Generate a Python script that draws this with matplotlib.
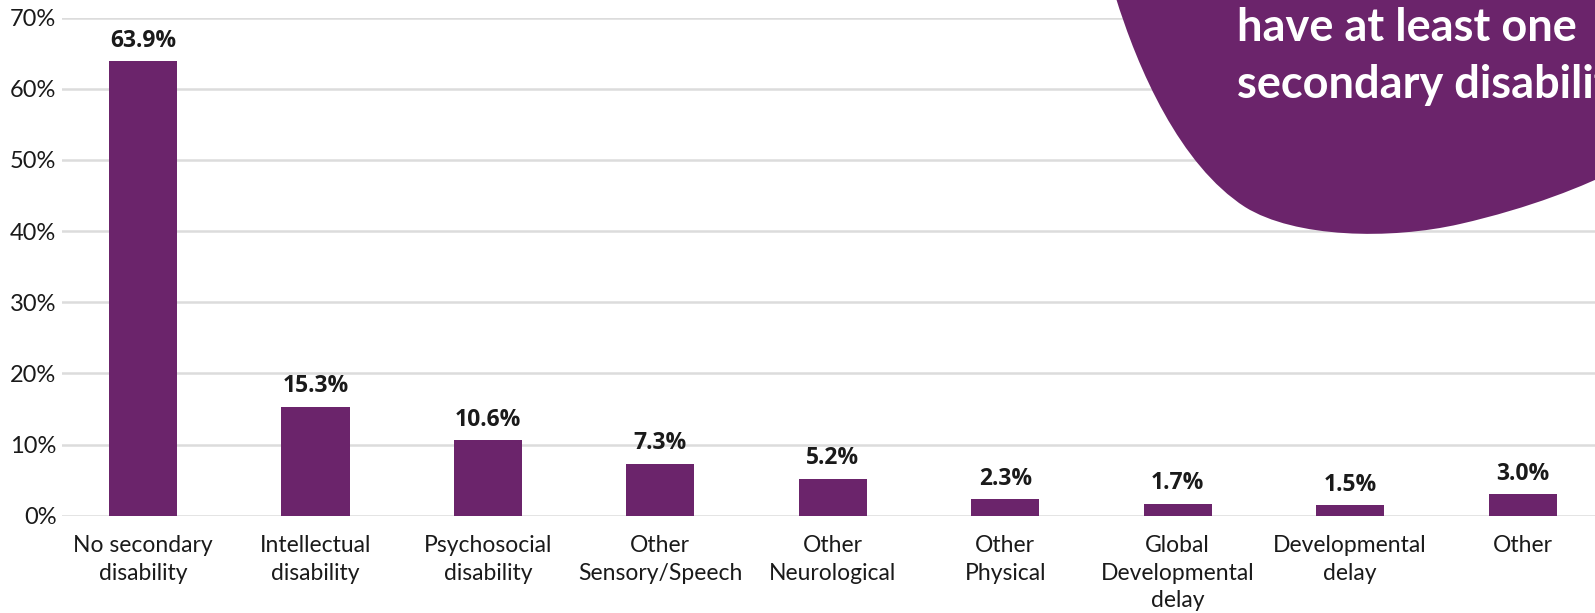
import matplotlib
matplotlib.use("Agg")
import matplotlib.pyplot as plt
from matplotlib.path import Path
from matplotlib.patches import PathPatch

categories = ["No secondary\ndisability", "Intellectual\ndisability", "Psychosocial\ndisability",
              "Other\nSensory/Speech", "Other\nNeurological", "Other\nPhysical",
              "Global\nDevelopmental\ndelay", "Developmental\ndelay", "Other"]
values = [63.9, 15.3, 10.6, 7.3, 5.2, 2.3, 1.7, 1.5, 3.0]
yticks = [0, 10, 20, 30, 40, 50, 60, 70]
callout_lines = ["have at least one", "secondary disability"]

PURPLE = "#6b246b"
W, H = 1595, 613
fig = plt.figure(figsize=(W / 100, H / 100), dpi=100)
ax = fig.add_axes([62 / W, 1 - 515.7 / H, 1 - 62 / W, (515.7 - 17.5) / H])

x = list(range(len(categories)))
ax.bar(x, values, width=0.395, color=PURPLE, zorder=3)
for xi, v in zip(x, values):
    ax.annotate(f"{v:.1f}%", (xi, v), xytext=(0, 6), textcoords="offset points",
                ha="center", va="bottom", fontsize=16.5, fontweight="bold",
                family="Open Sans", color="#1a1a1a")

ax.set_xlim(-0.47, 8.42)
ax.set_ylim(0, 70)
ax.set_yticks(yticks)
ax.set_yticklabels([f"{t}%" for t in yticks], family="Lato", fontsize=17, color="#1a1a1a")
ax.set_xticks(x)
ax.set_xticklabels(categories, family="Lato", fontsize=16.5, color="#1a1a1a", linespacing=1.38)
ax.tick_params(axis="both", length=0)
ax.tick_params(axis="y", pad=4)
ax.tick_params(axis="x", pad=14)
for s in ax.spines.values():
    s.set_visible(False)
for t in yticks:
    ax.axhline(t, color="#dcdcdc", lw=1.8, zorder=1)

# purple callout blob (figure pixel coordinates)
def P(px, py):
    return (px / W, 1 - py / H)

verts = [P(1115, -5), P(1138, 70), P(1180, 165), P(1245, 207),
         P(1295, 238), P(1390, 240), P(1460, 224),
         P(1530, 208), P(1585, 186), P(1620, 168),
         P(1620, -5), P(1115, -5)]
codes = [Path.MOVETO, Path.CURVE4, Path.CURVE4, Path.CURVE4,
         Path.CURVE4, Path.CURVE4, Path.CURVE4,
         Path.CURVE4, Path.CURVE4, Path.CURVE4,
         Path.LINETO, Path.CLOSEPOLY]
fig.patches.append(PathPatch(Path(verts, codes), transform=fig.transFigure,
                             facecolor=PURPLE, edgecolor="none", zorder=5))
fig.text(1237 / W, 1 - 41 / H, callout_lines[0], color="white", fontsize=32.5,
         fontweight="bold", family="Lato", ha="left", va="baseline", zorder=6)
fig.text(1237 / W, 1 - 98 / H, callout_lines[1], color="white", fontsize=32.5,
         fontweight="bold", family="Lato", ha="left", va="baseline", zorder=6)

fig.savefig("out.png", dpi=100)
